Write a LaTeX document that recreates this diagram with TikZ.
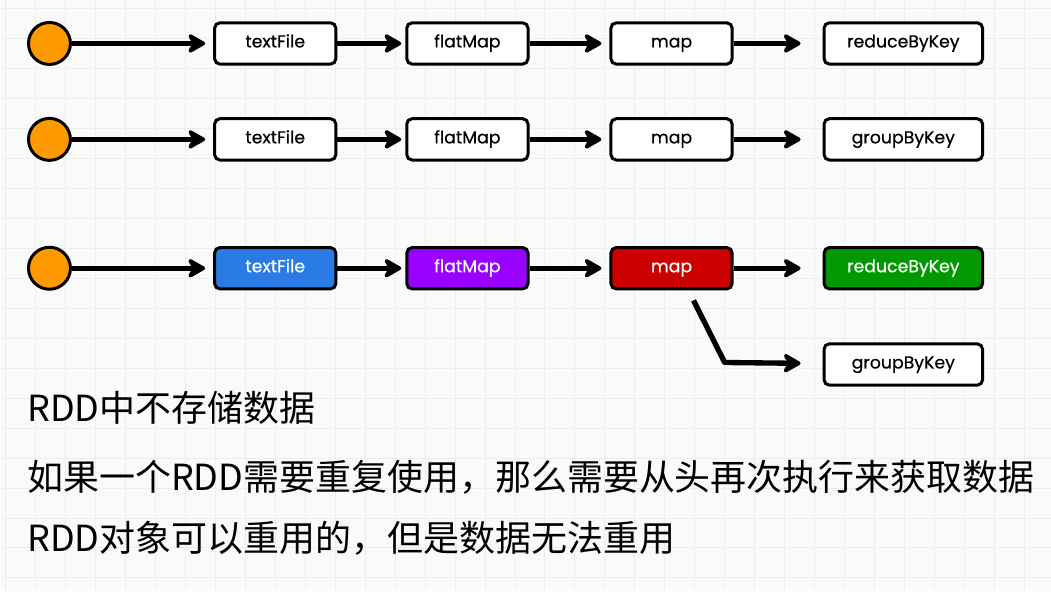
\documentclass[tikz,border=0pt]{standalone}
\usepackage{fontspec}
\setmainfont{Noto Sans CJK SC}
\newfontfamily\boxfont{Poppins}[FakeBold=0.5]
\usetikzlibrary{arrows.meta, positioning}
\definecolor{bgcol}{HTML}{FAFAFA}
\definecolor{gridcol}{HTML}{EDEDED}
\definecolor{startcol}{HTML}{FF9900}
\definecolor{filecol}{HTML}{2B7BE4}
\definecolor{flatcol}{HTML}{9900FF}
\definecolor{mapcol}{HTML}{CC0000}
\definecolor{reducecol}{HTML}{009900}

\begin{document}
\begin{tikzpicture}[x=0.75pt, y=-0.75pt,
    start/.style={draw, circle, fill=startcol, line width=2.25pt,
        minimum size=31.5pt, inner sep=0pt},
    op/.style={draw, fill=white, rounded corners=4pt, line width=2.25pt,
        minimum width=91pt, minimum height=31pt, inner sep=0pt,
        text height=9pt, text depth=3pt,
        font=\boxfont\fontsize{13}{15}\selectfont},
    wideop/.style={op, minimum width=119pt},
    flow/.style={-{Stealth[round, length=16pt, width=18pt, inset=5pt]},
        line width=4pt},
    gridline/.style={gridcol, line width=0.75pt},
    note/.style={anchor=west, font=\fontsize{27}{30}\selectfont}]

% Background and grid
\fill[bgcol] (0,0) rectangle (1051,591);
\foreach \gx in {5,35,...,1050} \draw[gridline] (\gx,0) -- (\gx,591);
\foreach \gy in {8,38,...,590} \draw[gridline] (0,\gy) -- (1051,\gy);
\useasboundingbox (0,0) rectangle (1051,591);

% First job
\node[start] (s1) at (49,43) {};
\node[op,
    right=106pt of s1] (tf1) {textFile};
\node[op,
    right=51pt of tf1] (fm1) {flatMap};
\node[op,
    right=60pt of fm1] (mp1) {map};
\node[wideop,
    right=66.75pt of mp1] (rk1) {reduceByKey};

% Second job
\node[start] (s2) at (49,139) {};
\node[op,
    right=106pt of s2] (tf2) {textFile};
\node[op,
    right=51pt of tf2] (fm2) {flatMap};
\node[op,
    right=60pt of fm2] (mp2) {map};
\node[wideop,
    right=66.75pt of mp2] (gk2) {groupByKey};

% Shared lineage
\node[start] (s3) at (49,268) {};
\node[op, fill=filecol, text=white,
    right=106pt of s3] (tf3) {textFile};
\node[op, fill=flatcol, text=white,
    right=51pt of tf3] (fm3) {flatMap};
\node[op, fill=mapcol, text=white,
    right=60pt of fm3] (mp3) {map};
\node[wideop, fill=reducecol, text=white,
    right=66.75pt of mp3] (rk3) {reduceByKey};
\node[wideop,
    below=39pt of rk3] (gk4) {groupByKey};

% Arrows
\draw[flow, shorten >=6pt] (s1) -- (tf1);
\draw[flow, shorten >=3pt] (tf1) -- (fm1);
\draw[flow, shorten >=6pt] (fm1) -- (mp1);
\draw[flow, shorten >=16.5pt] (mp1) -- (rk1);

\draw[flow, shorten >=6pt] (s2) -- (tf2);
\draw[flow, shorten >=3pt] (tf2) -- (fm2);
\draw[flow, shorten >=6pt] (fm2) -- (mp2);
\draw[flow, shorten >=16.5pt] (mp2) -- (gk2);

\draw[flow, shorten >=6pt] (s3) -- (tf3);
\draw[flow, shorten >=3pt] (tf3) -- (fm3);
\draw[flow, shorten >=6pt] (fm3) -- (mp3);
\draw[flow, shorten >=16.5pt] (mp3) -- (rk3);
\draw[flow, shorten >=16.5pt, line join=round]
    ([xshift=16.5pt, yshift=-7.5pt]mp3.south) -- ([xshift=-73.5pt, yshift=1.5pt]gk4.west) -- (gk4);

% Notes
\node[note] (n1) at (22,408) {RDD中不存储数据};
\node[note] (n2) at (22,477) {如果一个RDD需要重复使用，那么需要从头再次执行来获取数据};
\node[note] (n3) at (22,538) {RDD对象可以重用的，但是数据无法重用};

\end{tikzpicture}
\end{document}
